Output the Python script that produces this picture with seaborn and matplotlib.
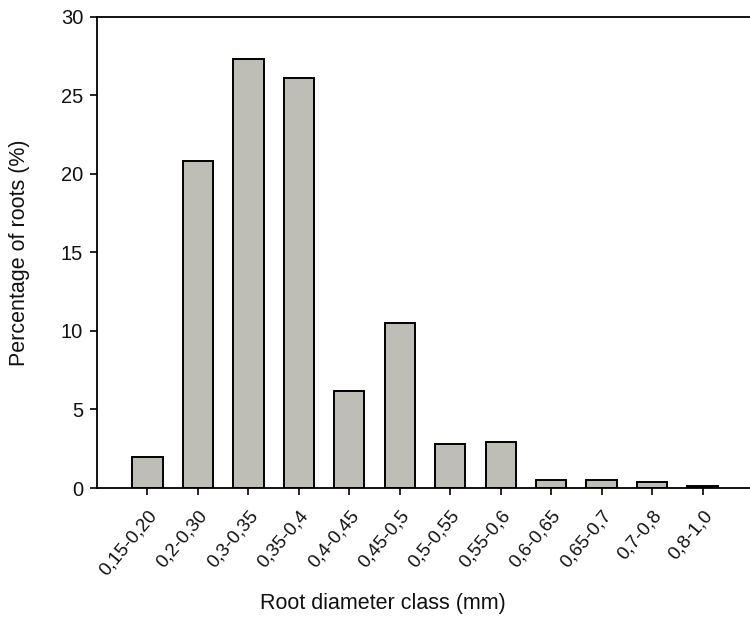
import matplotlib
matplotlib.use("Agg")
import matplotlib.pyplot as plt
import seaborn as sns
import pandas as pd

# Root diameter classes (mm) and share of roots in each class (%)
classes = ["0,15-0,20", "0,2-0,30", "0,3-0,35", "0,35-0,4", "0,4-0,45", "0,45-0,5",
           "0,5-0,55", "0,55-0,6", "0,6-0,65", "0,65-0,7", "0,7-0,8", "0,8-1,0"]
percent = [2.0, 20.8, 27.3, 26.1, 6.2, 10.5, 2.8, 2.9, 0.5, 0.5, 0.4, 0.1]
y_ticks = [0, 5, 10, 15, 20, 25, 30]

df = pd.DataFrame({"cls": classes, "pct": percent})

sns.set_style("white")
plt.rcParams["font.family"] = ["Liberation Sans", "DejaVu Sans"]
plt.rcParams["text.color"] = "#111111"
plt.rcParams["axes.labelcolor"] = "#111111"

fig = plt.figure(figsize=(7.5, 6.2), dpi=100)
ax = fig.add_axes([0.1293, 0.2129, 0.8747, 0.7597])

sns.barplot(data=df, x="cls", y="pct", order=classes, color="#bebeb6",
            saturation=1, width=0.6, edgecolor="black", linewidth=1.4, ax=ax)

ax.set_xlim(-1, 12)
ax.set_ylim(0, 30)
ax.set_yticks(y_ticks)
ax.set_yticklabels([str(v) for v in y_ticks])

for side in ["left", "bottom", "top"]:
    ax.spines[side].set_visible(True)
    ax.spines[side].set_color("black")
    ax.spines[side].set_linewidth(1.3)
ax.spines["right"].set_visible(False)

ax.tick_params(axis="both", which="major", direction="out", length=5, width=1.2,
               color="black", labelcolor="#111111",
               bottom=True, left=True, top=False, right=False)
ax.tick_params(axis="y", labelsize=14.5, pad=5)
ax.tick_params(axis="x", labelsize=13.5, pad=9)
plt.setp(ax.get_xticklabels(), rotation=50, ha="right", rotation_mode="anchor")

ax.set_xlabel("Root diameter class (mm)", fontsize=15.5)
ax.set_ylabel("Percentage of roots (%)", fontsize=15.5, labelpad=22)
ax.xaxis.set_label_coords(0.436, -0.222)

fig.savefig("out.png", dpi=100)
